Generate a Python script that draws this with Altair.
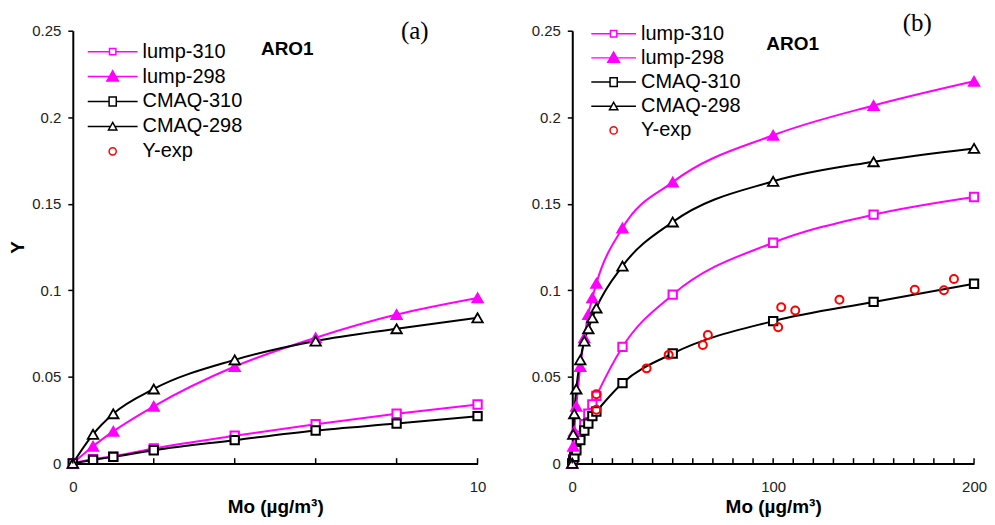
import altair as alt
import pandas as pd

SERIES = ["lump-310", "lump-298", "CMAQ-310", "CMAQ-298", "Y-exp"]

# ---- panel (a): Mo 0..10 ----
a_x = [0, 0.5, 1, 2, 4, 6, 8, 10]
a_lump310 = [0, 0.0025, 0.004, 0.0086, 0.016, 0.0226, 0.0287, 0.034]
a_lump298 = [0, 0.0099, 0.0185, 0.033, 0.056, 0.0726, 0.086, 0.0956]
a_cmaq310 = [0, 0.002, 0.0038, 0.0076, 0.0134, 0.019, 0.023, 0.0273]
a_cmaq298 = [0, 0.0168, 0.0287, 0.043, 0.0598, 0.0707, 0.0778, 0.0841]

# ---- panel (b): Mo 0..200 ----
b_x = [0, 0.5, 1, 2, 4, 6, 8, 10, 12, 25, 50, 100, 150, 200]
b_lump310 = [0, 0.0025, 0.004, 0.0086, 0.016, 0.0226, 0.0287, 0.034, 0.039, 0.0673, 0.0975, 0.1275, 0.1437, 0.1539]
b_lump298 = [0, 0.0099, 0.0185, 0.033, 0.056, 0.0726, 0.086, 0.0956, 0.104, 0.136, 0.1625, 0.1896, 0.2068, 0.2208]
b_cmaq310 = [0, 0.002, 0.0038, 0.0076, 0.0134, 0.019, 0.023, 0.0273, 0.030, 0.0464, 0.0635, 0.0822, 0.0933, 0.1038]
b_cmaq298 = [0, 0.0168, 0.0287, 0.043, 0.0598, 0.0707, 0.0778, 0.0841, 0.0898, 0.114, 0.1395, 0.163, 0.1743, 0.182]

exp_x = [12, 12, 37, 48, 65, 67.5, 102.5, 104, 111, 133, 170.5, 185, 190]
exp_y = [0.040, 0.031, 0.0549, 0.0627, 0.0684, 0.0742, 0.0787, 0.0902, 0.0883, 0.0946, 0.1003, 0.1, 0.1065]

a_ticks = [0, 2, 4, 6, 8, 10]
b_ticks = list(range(0, 201, 10))
y_ticks = [0, 0.05, 0.1, 0.15, 0.2, 0.25]

FONT = "Liberation Sans"
STROKES = ["#ff00ff", "#ff00ff", "#000000", "#000000", "#ff0000"]
FILLS = ["#ffffff", "#ff00ff", "#ffffff", "#ffffff", "transparent"]


def legend_paths(h):
    """Legend glyphs: a line segment of half-length h (symbol units) with the marker."""
    return [
        f"M-{h},0H-0.8M0.8,0H{h}M-0.8,-0.8H0.8V0.8H-0.8Z",
        f"M-{h},0H{h}M0,-1.45L1.45,1.1L-1.45,1.1Z",
        f"M-{h},0H-0.9M0.9,0H{h}M-0.9,-1.1H0.9V1.1H-0.9Z",
        f"M-{h},0H-0.55M0.55,0H{h}M0,-1L1.05,0.9L-1.05,0.9Z",
        "M-0.9,0A0.9,0.9 0 1,0 0.9,0A0.9,0.9 0 1,0 -0.9,0Z",
    ]


PLOT_H = 434


def long_df(x, cols):
    rows = []
    for name, ys in cols.items():
        for xi, yi in zip(x, ys):
            rows.append({"x": xi, "y": yi, "series": name})
    return pd.DataFrame(rows)


df_a = long_df(a_x, {"lump-310": a_lump310, "lump-298": a_lump298,
                     "CMAQ-310": a_cmaq310, "CMAQ-298": a_cmaq298})
df_b = pd.concat([
    long_df(b_x, {"lump-310": b_lump310, "lump-298": b_lump298,
                  "CMAQ-310": b_cmaq310, "CMAQ-298": b_cmaq298}),
    long_df(exp_x, {"Y-exp": exp_y}),
], ignore_index=True)


def panel(df, xmax, ticks, label_expr, legend_xy, row_pad, line_half, label_off,
          ytitle, aro_xy, tag, tag_xy, width):
    xs = alt.Scale(domain=[0, xmax], nice=False, zero=False)
    ys = alt.Scale(domain=[0, 0.25], nice=False)
    x_enc = alt.X("x:Q", scale=xs, axis=alt.Axis(
        values=ticks, labelExpr=label_expr, ticks=False, grid=False,
        title="Mo (µg/m³)", domainWidth=2, domainColor="black",
        labelFont=FONT, labelFontSize=15, labelColor="#222", labelPadding=16,
        titleFont=FONT, titleFontSize=19, titleFontWeight="bold", titleColor="black",
        titlePadding=3, labelFlush=False))
    y_axis = dict(values=y_ticks, format="~g", grid=False, tickSize=5, tickWidth=1.5,
                  tickColor="black", domainWidth=2, domainColor="black",
                  labelFont=FONT, labelFontSize=15, labelColor="#222", labelPadding=7)
    if ytitle:
        y_axis.update(title=ytitle, titleFont=FONT, titleFontSize=19,
                      titleFontWeight="bold", titleColor="black", titlePadding=4)
    else:
        y_axis.update(title=None)
    y_enc = alt.Y("y:Q", scale=ys, axis=alt.Axis(**y_axis))

    stroke_scale = alt.Scale(domain=SERIES, range=STROKES)
    fill_scale = alt.Scale(domain=SERIES, range=FILLS)
    leg = alt.Legend(title=None, orient="none", legendX=legend_xy[0], legendY=legend_xy[1],
                     padding=0, labelFont=FONT, labelFontSize=20, labelColor="black",
                     labelOffset=label_off, symbolSize=64, symbolStrokeWidth=1.5,
                     rowPadding=row_pad)
    stroke_enc = alt.Stroke("series:N", scale=stroke_scale, legend=leg)
    fill_enc = alt.Fill("series:N", scale=fill_scale, legend=leg)

    base = alt.Chart(df)
    lines = base.transform_filter(alt.datum.series != "Y-exp").mark_line(
        strokeWidth=2, interpolate="monotone").encode(x=x_enc, y=y_enc, stroke=stroke_enc)

    def markers(names, shape, size, sw):
        return base.transform_filter(alt.FieldOneOfPredicate(field="series", oneOf=names)).mark_point(
            shape=shape, size=size, strokeWidth=sw, opacity=1).encode(
            x=x_enc, y=y_enc, stroke=stroke_enc, fill=fill_enc)

    squares = markers(["lump-310", "CMAQ-310"], "square", 70, 2)
    tris = markers(["lump-298", "CMAQ-298"], "triangle-up", 110, 1.8)
    circles = markers(["Y-exp"], "circle", 64, 2)

    legend_layer = base.transform_filter("false").mark_point(opacity=1, strokeWidth=1.5).encode(
        x=x_enc, y=y_enc,
        shape=alt.Shape("series:N", scale=alt.Scale(domain=SERIES, range=legend_paths(line_half)),
                        legend=leg),
        stroke=stroke_enc, fill=fill_enc)

    tick_layer = alt.Chart(pd.DataFrame({"t": ticks})).mark_rule(
        color="black", strokeWidth=1.5).encode(
        x=alt.X("t:Q", scale=xs), y=alt.datum(0), y2=alt.datum(0.003))

    aro = alt.Chart(pd.DataFrame({"x": [aro_xy[0]], "y": [aro_xy[1]], "t": ["ARO1"]})).mark_text(
        font=FONT, fontSize=19, fontWeight="bold", color="black", baseline="middle").encode(
        x=alt.X("x:Q", scale=xs), y=alt.Y("y:Q", scale=ys), text="t:N")
    tag_layer = alt.Chart(pd.DataFrame({"x": [tag_xy[0]], "y": [tag_xy[1]], "t": [tag]})).mark_text(
        font="Liberation Serif", fontSize=25, color="black", baseline="middle").encode(
        x=alt.X("x:Q", scale=xs), y=alt.Y("y:Q", scale=ys), text="t:N")

    return alt.layer(lines, squares, tris, circles, legend_layer, tick_layer, aro, tag_layer).properties(
        width=width, height=PLOT_H)


left = panel(df_a, 10, a_ticks, "datum.value == 0 || datum.value == 10 ? datum.label : ''",
             (30, 11), 5, 6.25, 20, "Y", (5.3, 0.2397), "(a)", (8.45, 0.25), 406)
right = panel(df_b, 200, b_ticks, "datum.value % 50 == 0 ? datum.label : ''",
              (31.5, -7), 4.25, 5.6, 17.5, None, (109.7, 0.2425), "(b)", (171.7, 0.2543), 403)

chart = alt.hconcat(left, right, spacing=95, bounds="flush").resolve_scale(
    stroke="independent", fill="independent", shape="independent"
).configure_view(stroke=None).properties(padding={"left": 0, "top": 2, "right": 0, "bottom": 0})

chart.save("out.html", embed_options={"renderer": "svg", "actions": False})
